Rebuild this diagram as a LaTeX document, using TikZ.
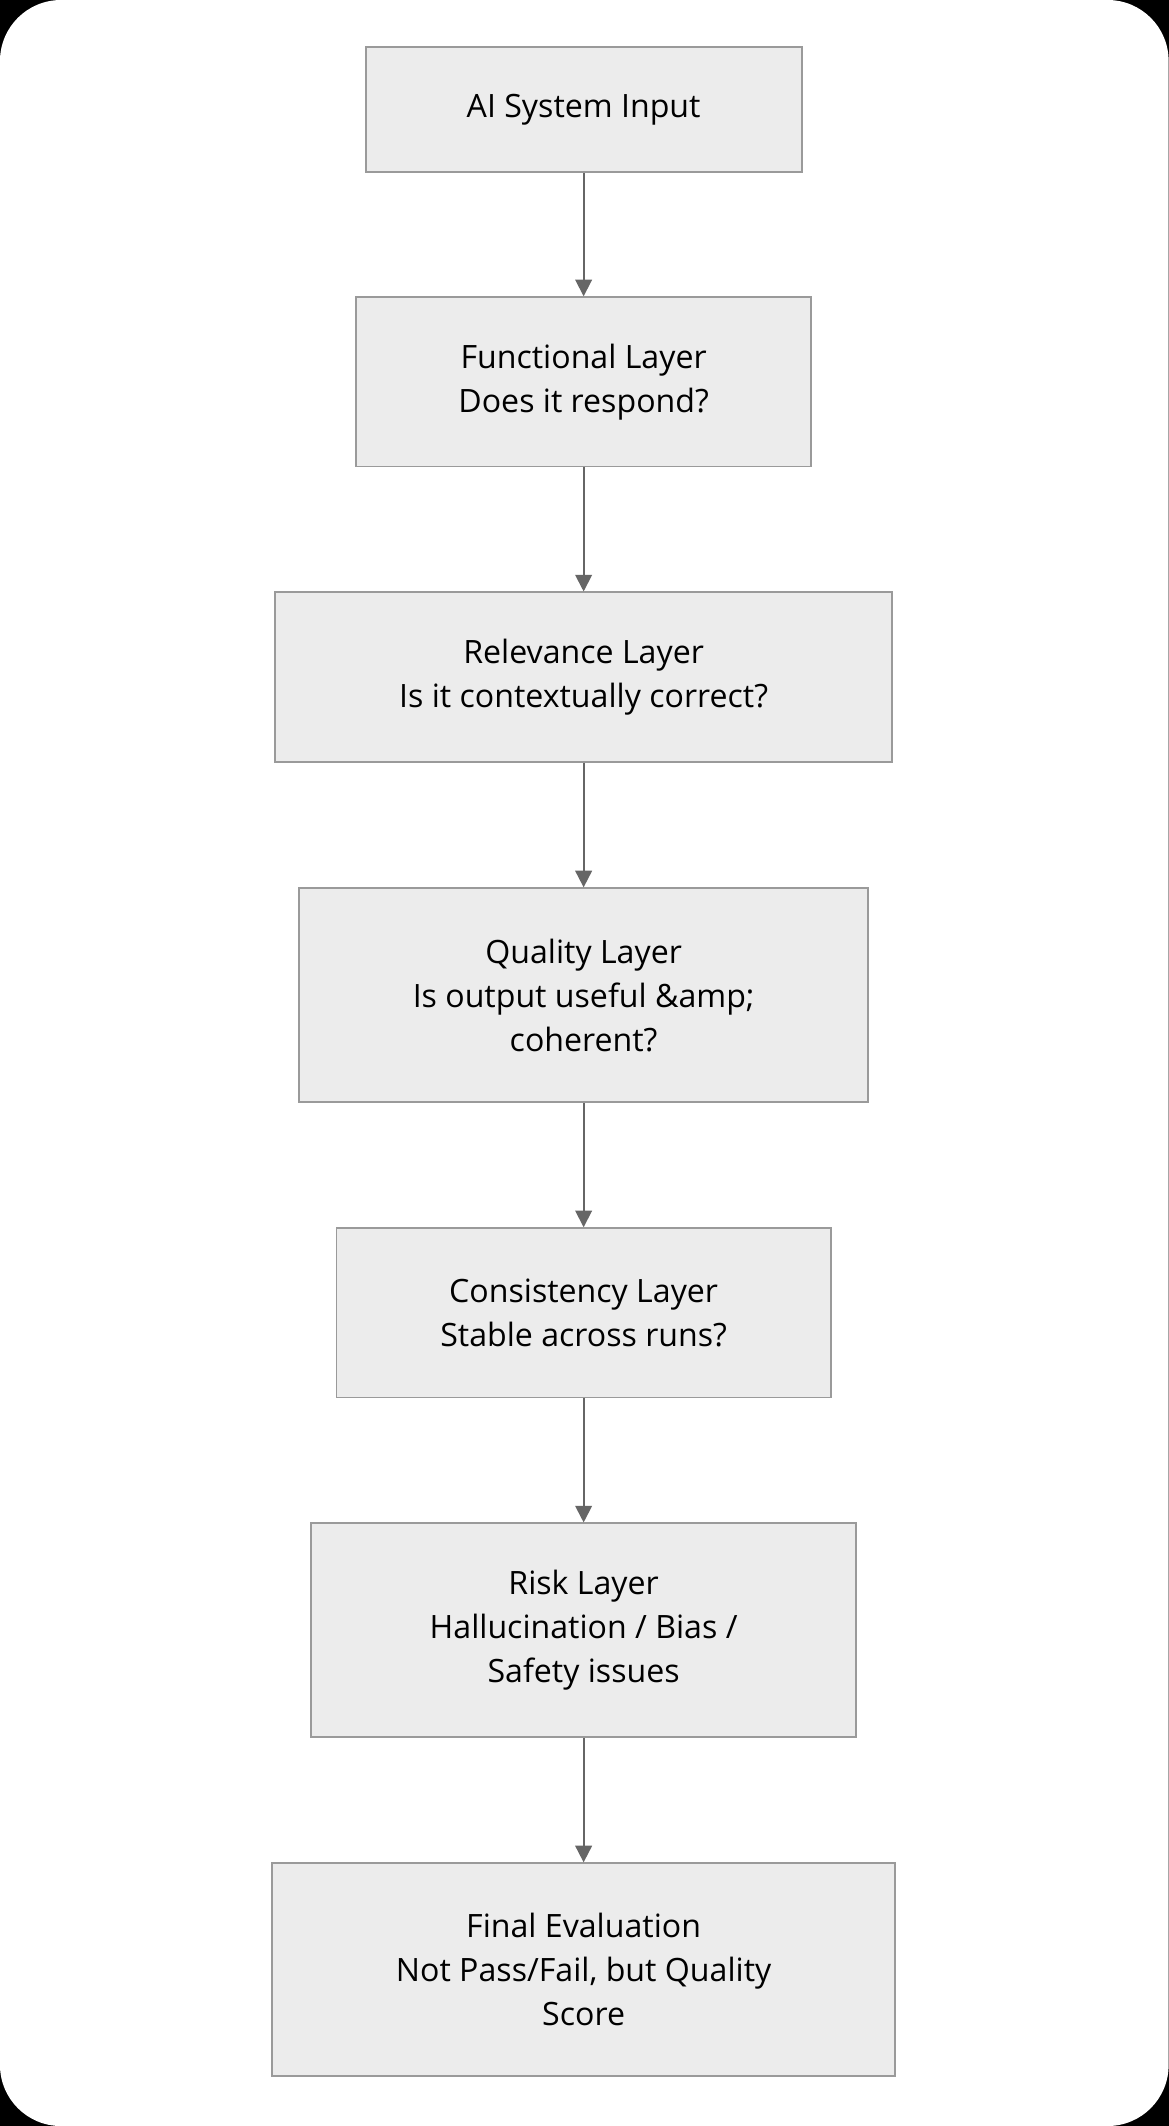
\documentclass[tikz,border=0pt]{standalone}
\usepackage{fontspec}
\setmainfont{Open Sans}
\usetikzlibrary{arrows.meta}
\definecolor{boxfill}{HTML}{ECECEC}
\definecolor{boxline}{HTML}{9A9A9A}
\definecolor{arrowgray}{HTML}{666666}
\tikzset{
  layer/.style={draw=boxline, fill=boxfill, line width=0.8pt, align=center, font=\fontsize{13.5}{18.5}\selectfont, inner sep=0pt},
  flow/.style={draw=arrowgray, line width=0.8pt, -{Triangle[length=7pt,width=7pt]}}
}
\begin{document}
\begin{tikzpicture}
\fill[black] (-8.62,0.02) rectangle (8.64,-31.38);
\fill[white, rounded corners=0.9cm] (-8.62,0.02) rectangle (8.64,-31.38);
\useasboundingbox (-8.62,0.02) rectangle (8.64,-31.38);
\node[layer, minimum width=6.44cm, minimum height=1.84cm] (input) at (0,-1.6) {AI System Input};
\node[layer, minimum width=6.72cm, minimum height=2.5cm] (func) at (0,-5.62) {Functional Layer\\Does it respond?};
\node[layer, minimum width=9.12cm, minimum height=2.5cm] (rel) at (0,-9.98) {Relevance Layer\\Is it contextually correct?};
\node[layer, minimum width=8.4cm, minimum height=3.16cm] (qual) at (0,-14.68) {Quality Layer\\Is output useful \&amp;\\coherent?};
\node[layer, minimum width=7.3cm, minimum height=2.5cm] (cons) at (0,-19.37) {Consistency Layer\\Stable across runs?};
\node[layer, minimum width=8.04cm, minimum height=3.16cm] (risk) at (0,-24.06) {Risk Layer\\Hallucination / Bias /\\Safety issues};
\node[layer, minimum width=9.2cm, minimum height=3.14cm] (final) at (0,-29.07) {Final Evaluation\\Not Pass/Fail, but Quality\\Score};
\draw[flow] (input) -- (func);
\draw[flow] (func) -- (rel);
\draw[flow] (rel) -- (qual);
\draw[flow] (qual) -- (cons);
\draw[flow] (cons) -- (risk);
\draw[flow] (risk) -- (final);
\end{tikzpicture}
\end{document}
